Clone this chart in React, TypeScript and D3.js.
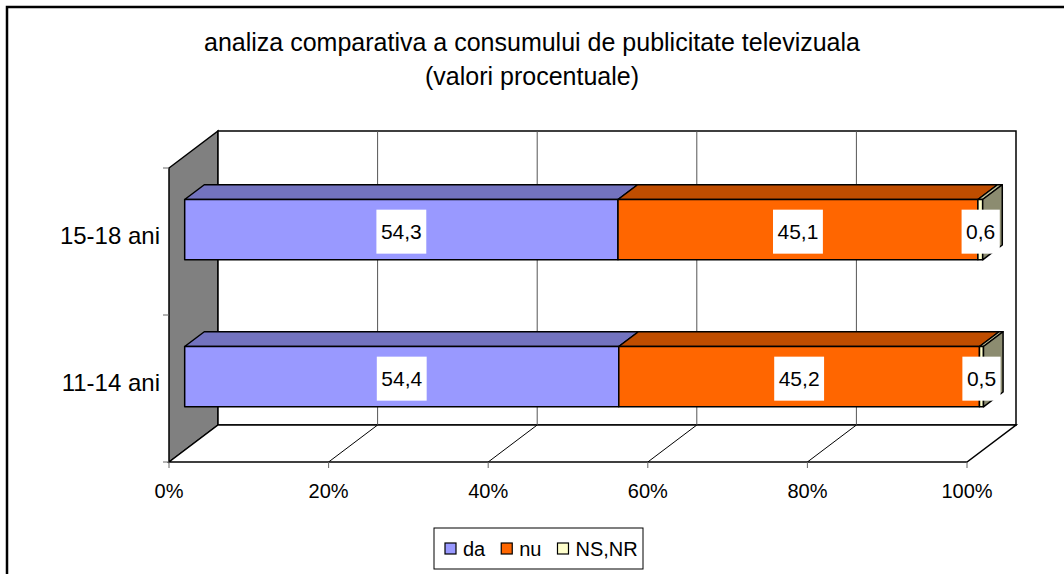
import * as d3 from "d3";

const CATEGORIES = ["15-18 ani", "11-14 ani"];
const SERIES = ["da", "nu", "NS,NR"];
const VALUES: number[][] = [
  [54.3, 45.1, 0.6],
  [54.4, 45.2, 0.5],
];
const LABELS: string[][] = [
  ["54,3", "45,1", "0,6"],
  ["54,4", "45,2", "0,5"],
];
const X_TICKS = [0, 20, 40, 60, 80, 100];
const TITLE = ["analiza comparativa a consumului de publicitate televizuala", "(valori procentuale)"];

const COLORS = ["#9999FF", "#FF6600", "#FFFFCC"];
const FONT = "'Liberation Sans', Arial, sans-serif";

// shade a colour for the 3D faces
const shade = (c: string, k: number) => {
  const r = d3.rgb(c);
  return d3.rgb(r.r * k, r.g * k, r.b * k).formatHex();
};

let ctx: CanvasRenderingContext2D | null = null;
const textWidth = (s: string, size: number) => {
  if (!ctx) ctx = document.createElement("canvas").getContext("2d");
  if (!ctx) return s.length * size * 0.5;
  ctx.font = `${size}px ${FONT}`;
  return ctx.measureText(s).width;
};

export default function App() {
  const W = 1064;
  const H = 574;

  // front plane of the plot
  const x0 = 169;
  const floorY = 462;
  const topY = 168;
  const DX = 49; // depth offset
  const DY = 37;

  const x = d3.scaleLinear().domain([0, 100]).range([x0, x0 + 798]);
  const y = d3.scaleBand().domain(CATEGORIES).range([topY, floorY]).paddingInner(0.59).paddingOuter(0.295);

  const P = (v: number, yy: number, z: number): [number, number] => [x(v) + z * DX, yy - z * DY];
  const poly = (pts: [number, number][]) => pts.map(p => p.join(",")).join(" ");

  const zf = 0.32;
  const zb = 0.72;

  const bars = CATEGORIES.map((cat, ci) => {
    const yt = y(cat)!;
    const yb = yt + y.bandwidth();
    const stack = d3.cumsum(VALUES[ci]);
    const segs = VALUES[ci].map((v, si) => {
      const v0 = stack[si] - v;
      const v1 = stack[si];
      return { si, v0, v1 };
    });
    return { cat, ci, yt, yb, segs };
  });

  const stroke = "#000";

  return (
    <svg width={W} height={H} style={{ position: "absolute", left: 0, top: 0, background: "#fff" }} fontFamily={FONT}>
      <rect x={0} y={0} width={W} height={H} fill="#fff" />
      {/* left wall */}
      <polygon
        points={poly([P(0, topY, 0), P(0, topY, 1), P(0, floorY, 1), P(0, floorY, 0)])}
        fill="#808080"
        stroke={stroke}
        strokeWidth={1.5}
      />
      {/* back wall */}
      <polygon
        points={poly([P(0, topY, 1), P(100, topY, 1), P(100, floorY, 1), P(0, floorY, 1)])}
        fill="#fff"
        stroke={stroke}
        strokeWidth={1.5}
      />
      {/* floor */}
      <polygon
        points={poly([P(0, floorY, 0), P(0, floorY, 1), P(100, floorY, 1), P(100, floorY, 0)])}
        fill="#fff"
        stroke={stroke}
        strokeWidth={1.5}
      />
      {/* gridlines */}
      {X_TICKS.slice(1, -1).map(t => (
        <g key={t}>
          <line x1={P(t, topY, 1)[0]} y1={P(t, topY, 1)[1]} x2={P(t, floorY, 1)[0]} y2={P(t, floorY, 1)[1]} stroke="#555" strokeWidth={1} />
          <line x1={P(t, floorY, 0)[0]} y1={P(t, floorY, 0)[1]} x2={P(t, floorY, 1)[0]} y2={P(t, floorY, 1)[1]} stroke="#000" strokeWidth={1} />
        </g>
      ))}
      {/* x ticks */}
      {X_TICKS.map(t => (
        <g key={"xt" + t}>
          <line x1={x(t)} y1={floorY} x2={x(t)} y2={floorY + 6} stroke="#666" strokeWidth={1} />
          <text x={x(t)} y={498} textAnchor="middle" fontSize={20}>{t}%</text>
        </g>
      ))}
      {/* y ticks */}
      {[topY, (topY + floorY) / 2, floorY].map((ty, i) => (
        <line key={"yt" + i} x1={x0 - 6} y1={ty} x2={x0} y2={ty} stroke="#666" strokeWidth={1} />
      ))}
      {CATEGORIES.map(c => (
        <text key={c} x={160} y={y(c)! + y.bandwidth() / 2 + 2} textAnchor="end" fontSize={24}>{c}</text>
      ))}
      {/* bars */}
      {bars.map(b => {
        const last = b.segs[b.segs.length - 1];
        return (
          <g key={b.cat}>
            {b.segs.map(s => (
              <g key={s.si}>
                <polygon
                  points={poly([P(s.v0, b.yt, zf), P(s.v1, b.yt, zf), P(s.v1, b.yt, zb), P(s.v0, b.yt, zb)])}
                  fill={shade(COLORS[s.si], 0.75)}
                  stroke={stroke}
                  strokeWidth={1.5}
                  strokeLinejoin="round"
                />
                <polygon
                  points={poly([P(s.v0, b.yt, zf), P(s.v1, b.yt, zf), P(s.v1, b.yb, zf), P(s.v0, b.yb, zf)])}
                  fill={COLORS[s.si]}
                  stroke={stroke}
                  strokeWidth={1.5}
                  strokeLinejoin="round"
                />
              </g>
            ))}
            <polygon
              points={poly([P(last.v1, b.yt, zf), P(last.v1, b.yt, zb), P(last.v1, b.yb, zb), P(last.v1, b.yb, zf)])}
              fill={shade(COLORS[last.si], 0.55)}
              stroke={stroke}
              strokeWidth={1.5}
              strokeLinejoin="round"
            />
          </g>
        );
      })}
      {/* data labels */}
      {bars.map(b =>
        b.segs.map(s => {
          const label = LABELS[b.ci][s.si];
          const fs = 21;
          const tw = textWidth(label, fs);
          const cx = s.si === SERIES.length - 1 ? P(s.v1, 0, zf)[0] - 2 : (P(s.v0, 0, zf)[0] + P(s.v1, 0, zf)[0]) / 2;
          const cy = (P(0, b.yt, zf)[1] + P(0, b.yb, zf)[1]) / 2 + 2;
          return (
            <g key={b.cat + s.si}>
              <rect x={cx - tw / 2 - 4.5} y={cy - 22} width={tw + 9} height={44} fill="#fff" />
              <text x={cx} y={cy + 7.5} textAnchor="middle" fontSize={fs}>{label}</text>
            </g>
          );
        })
      )}
      {/* title */}
      {TITLE.map((t, i) => (
        <text key={i} x={532} y={51 + i * 34} textAnchor="middle" fontSize={25}>{t}</text>
      ))}
      {/* legend */}
      <g>
        <rect x={434} y={528} width={209} height={41} fill="#fff" stroke="#000" strokeWidth={1} />
        {(() => {
          let lx = 445;
          return SERIES.map((s, i) => {
            const gx = lx;
            lx += 18 + textWidth(s, 20) + 16;
            return (
              <g key={s}>
                <rect x={gx} y={543} width={11} height={11} fill={COLORS[i]} stroke="#000" strokeWidth={1.2} />
                <text x={gx + 18} y={556} fontSize={20}>{s}</text>
              </g>
            );
          });
        })()}
      </g>
      {/* outer border */}
      <rect x={7} y={7} width={1120} height={700} fill="none" stroke="#000" strokeWidth={2.5} />
    </svg>
  );
}
